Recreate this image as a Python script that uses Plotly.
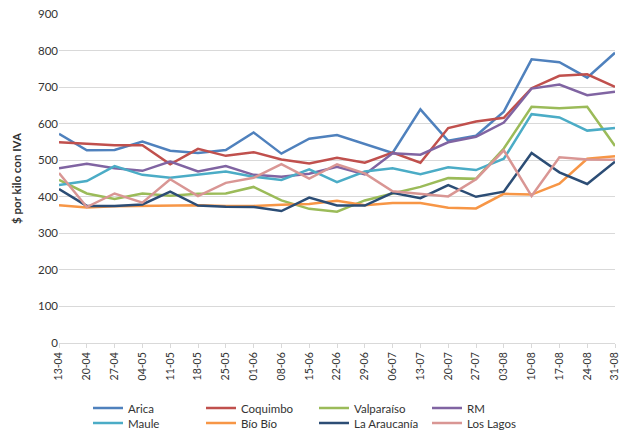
import plotly.graph_objects as go

categories = ["13-04", "20-04", "27-04", "04-05", "11-05", "18-05", "25-05", "01-06",
              "08-06", "15-06", "22-06", "29-06", "06-07", "13-07", "20-07", "27-07",
              "03-08", "10-08", "17-08", "24-08", "31-08"]

arica = [572, 527, 528, 551, 526, 520, 528, 576, 518, 559, 569, 545, 520, 639, 553, 567, 633, 776, 768, 726, 794]
coquimbo = [549, 545, 541, 541, 489, 531, 512, 522, 502, 491, 507, 493, 521, 493, 588, 606, 616, 697, 731, 735, 701]
valparaiso = [446, 409, 394, 409, 403, 408, 409, 427, 390, 367, 359, 390, 409, 427, 451, 449, 532, 646, 642, 646, 539]
rm = [478, 490, 478, 471, 496, 469, 484, 460, 455, 463, 482, 461, 519, 515, 549, 564, 603, 696, 707, 678, 687]
maule = [432, 443, 484, 460, 452, 460, 469, 455, 446, 475, 440, 469, 478, 462, 481, 473, 504, 626, 617, 581, 588]
biobio = [377, 371, 374, 375, 378, 377, 375, 375, 378, 380, 389, 377, 383, 383, 370, 368, 408, 406, 436, 504, 511]
araucania = [421, 375, 375, 379, 414, 376, 373, 372, 361, 398, 376, 376, 411, 396, 432, 400, 414, 520, 467, 435, 496]
loslagos = [465, 372, 409, 384, 448, 402, 438, 452, 489, 450, 489, 464, 415, 409, 401, 448, 527, 402, 508, 502, 501]

series = [
    ("Arica", arica, "#4F81BD", "legend"),
    ("Coquimbo", coquimbo, "#C0504D", "legend"),
    ("Valparaíso", valparaiso, "#9BBB59", "legend"),
    ("RM", rm, "#8064A2", "legend"),
    ("Maule", maule, "#4BACC6", "legend2"),
    ("Bío Bío", biobio, "#F79646", "legend2"),
    ("La Araucanía", araucania, "#2C4D75", "legend2"),
    ("Los Lagos", loslagos, "#D99694", "legend2"),
]

y_ticks = [0, 100, 200, 300, 400, 500, 600, 700, 800, 900]

fig = go.Figure()
for name, vals, color, leg in series:
    fig.add_trace(go.Scatter(
        x=categories, y=vals, name=name, mode="lines",
        line=dict(color=color, width=2.5),
        cliponaxis=False, legend=leg,
    ))

legend_common = dict(
    orientation="h", xref="container", x=88 / 623, xanchor="left",
    yref="container", yanchor="middle",
    entrywidth=68, entrywidthmode="pixels",
    font=dict(size=11.5, color="#333333"),
    tracegroupgap=0, itemwidth=30, bgcolor="rgba(0,0,0,0)",
)

fig.update_layout(
    width=623, height=434,
    margin=dict(l=59, r=8, t=14, b=91, autoexpand=False),
    paper_bgcolor="white", plot_bgcolor="white",
    font=dict(family="Lato, 'Open Sans', sans-serif", size=11, color="#333333"),
    showlegend=True,
    legend=dict(legend_common, y=1 - 408 / 434),
    legend2=dict(legend_common, y=1 - 423 / 434),
    xaxis=dict(
        type="category", range=[-0.0001, 20.0001], automargin=False,
        tickangle=-90, tickfont=dict(size=10.5),
        showgrid=False, showline=True, linecolor="#D9D9D9", linewidth=1,
        ticks="outside", ticklen=4, tickcolor="#D9D9D9",
        zeroline=False,
    ),
    yaxis=dict(
        range=[0, 900], tickvals=y_ticks, automargin=False,
        showgrid=True, gridcolor="#D9D9D9", gridwidth=1,
        zeroline=False, showline=False,
        title=dict(text="<b>$ por kilo con IVA</b>", font=dict(size=11.5, color="#333333"), standoff=13),
        ticks="", tickfont=dict(size=11.5),
    ),
)

fig.write_html(
    "out.html",
    config={"displayModeBar": False},
    post_script="document.body.style.margin='0';document.body.style.overflow='hidden';",
)
